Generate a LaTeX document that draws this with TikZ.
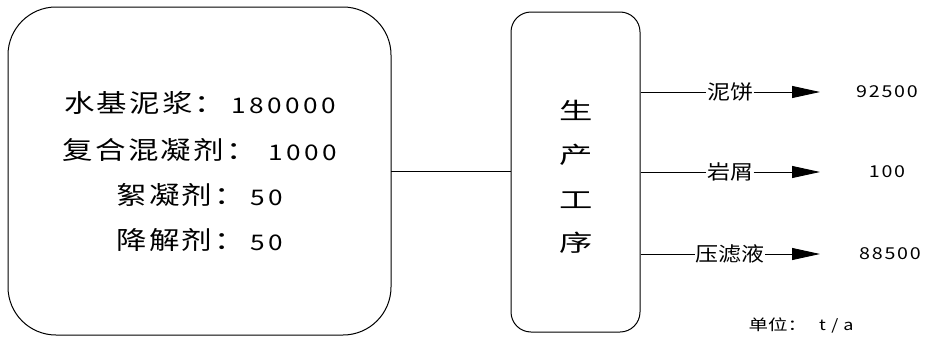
\documentclass[tikz,border=0pt]{standalone}
\usepackage{fontspec}
\usetikzlibrary{arrows.meta}
\newfontfamily\cjkA[LetterSpace=7]{Noto Sans CJK SC}
\newfontfamily\digA[LetterSpace=13]{Noto Sans CJK SC}
\newfontfamily\cjkB{Noto Sans CJK SC}
\newfontfamily\digB[LetterSpace=9]{Noto Sans CJK SC}
\newfontfamily\digC[LetterSpace=30]{Noto Sans CJK SC}
\newcommand\wid[2][1.2]{\scalebox{#1}[1]{#2}}
\newcommand\bigc[1]{{\cjkA\fontsize{25}{25}\selectfont #1}}
\newcommand\bigd[1]{\raisebox{-1pt}{\digA\fontsize{21.5}{21.5}\selectfont #1}}
\begin{document}
\begin{tikzpicture}[x=1pt,y=-1pt,
  box/.style={draw,line width=1pt},
  lbl/.style={inner sep=0pt},
  outl/.style={font=\cjkB\fontsize{20}{20}\selectfont,inner sep=0.5pt,fill=white},
  num/.style={font=\digB\fontsize{16.4}{16.4}\selectfont,inner sep=0pt},
  unitst/.style={font=\cjkB\fontsize{15}{15}\selectfont,inner sep=0pt},
  conn/.style={line width=0.9pt},
  arr/.style={line width=0.9pt,-{Triangle[length=28pt,width=12pt]}}]
\useasboundingbox (0,0) rectangle (928,340);
\fill[white] (0,0) rectangle (928,340);
% input box
\draw[box,rounded corners=48pt] (8,7) rectangle (391,335);
\node[lbl] (l1) at (200,103) {\wid[1.22]{\bigc{水基泥浆：}\hspace{5pt}\bigd{180000}}};
\node[lbl] (l2) at (200,150) {\wid[1.22]{\bigc{复合混凝剂：}\hspace{10pt}\bigd{1000}}};
\node[lbl] (l3) at (200,195) {\wid[1.22]{\bigc{絮凝剂：}\hspace{5pt}\bigd{50}}};
\node[lbl] (l4) at (200,240) {\wid[1.22]{\bigc{降解剂：}\hspace{5pt}\bigd{50}}};
\coordinate (inE) at (391,171);
% process box
\node[box,rounded corners=20pt,minimum width=129pt,minimum height=320pt,inner sep=0pt] (prod) at (575.5,172) {};
\node[lbl] (p1) at (576,110) {\wid[1.45]{\cjkB\fontsize{23}{23}\selectfont 生}};
\node[lbl] (p2) at (576,155) {\wid[1.45]{\cjkB\fontsize{23}{23}\selectfont 产}};
\node[lbl] (p3) at (576,200) {\wid[1.45]{\cjkB\fontsize{23}{23}\selectfont 工}};
\node[lbl] (p4) at (576,243) {\wid[1.45]{\cjkB\fontsize{23}{23}\selectfont 序}};
\draw[conn] (inE) -- (inE -| prod.west);
% outputs
\node[outl] (o1) at (730,92) {\wid[1.15]{泥饼}};
\node[outl] (o2) at (730,172) {\wid[1.15]{岩屑}};
\node[outl] (o3) at (730,254) {\wid[1.15]{压滤液}};
\coordinate (t1) at (820,92);
\coordinate (t2) at (820,172);
\coordinate (t3) at (820,254);
\draw[conn] (prod.east |- o1) -- (o1.west);
\draw[conn] (prod.east |- o2) -- (o2.west);
\draw[conn] (prod.east |- o3) -- (o3.west);
\draw[arr] (o1.east) -- (t1);
\draw[arr] (o2.east) -- (t2);
\draw[arr] (o3.east) -- (t3);
\node[num] (n1) at (887,92) {\wid{92500}};
\node[num] (n2) at (887,172) {\wid{100}};
\node[num] (n3) at (890,254) {\wid{88500}};
\node[unitst] (unit) at (801,325) {\wid[1.3]{单位：}\hspace{12pt}\wid{\digC\fontsize{15}{15}\selectfont t/a}};
\end{tikzpicture}
\end{document}
